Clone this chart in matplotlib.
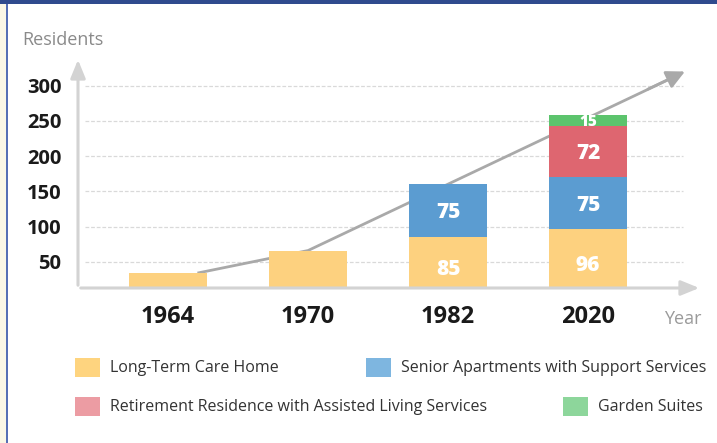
import numpy as np
import matplotlib
matplotlib.use("Agg")
import matplotlib.pyplot as plt
from matplotlib.patches import Rectangle

# data
years = ["1964", "1970", "1982", "2020"]
long_term = [34, 66, 85, 96]
senior_apts = [0, 0, 75, 75]
retirement = [0, 0, 0, 72]
garden = [0, 0, 0, 15]
yticks = [50, 100, 150, 200, 250, 300]

names = ["Long-Term Care Home", "Senior Apartments with Support Services",
         "Retirement Residence with Assisted Living Services", "Garden Suites"]
bar_colors = ["#FDD17F", "#5B9CD1", "#DE6670", "#5CC46D"]
key_colors = ["#FED47F", "#7EB6E0", "#EC9CA3", "#8DD69B"]

plt.rcParams["font.family"] = ["Open Sans", "DejaVu Sans"]

W, H = 717, 443
fig = plt.figure(figsize=(W / 100, H / 100), dpi=100)
fig.patch.set_facecolor("white")

# axes box in pixels: left 78, right 702, top 57, bottom 288
ax = fig.add_axes([78 / W, 1 - 288 / H, (702 - 78) / W, (288 - 57) / H])
ax.set_xlim(-0.643, 3.814)
ax.set_ylim(12.8, 340.9)
for s in ax.spines.values():
    s.set_visible(False)

x = np.arange(len(years))
series = [long_term, senior_apts, retirement, garden]
bottom = np.zeros(len(years))
for vals, c in zip(series, bar_colors):
    vals = np.array(vals)
    ax.bar(x, vals, 0.56, bottom=bottom, color=c, zorder=3, linewidth=0)
    bottom += vals

# value labels (only on the two stacked years)
for i in [2, 3]:
    b = 0
    for vals in series:
        v = vals[i]
        if v > 0:
            size = 15 if v > 30 else 11
            off = 3 if v > 30 else 1.5
            ax.text(x[i], b + v / 2 - off, str(v), ha="center", va="center",
                    color="white", fontsize=size, fontweight="heavy", zorder=5)
        b += v

# dashed grid
for t in yticks:
    ax.plot([-0.59, 3.68], [t, t], color="#d9d9d9", lw=0.9, ls=(0, (3, 1.5)), zorder=1)

# trend arrow through the first two bar tops
totals = bottom
tx = [0.21, 1.0, 3.71]
ty = [totals[0], totals[1], 322]
ax.plot(tx[:2] + [tx[2] - 0.08], ty[:2] + [ty[2] - 8], color="#a9a9a9", lw=2, zorder=2,
        solid_capstyle="butt")
ax.annotate("", xy=(tx[2], ty[2]), xytext=(tx[2] - 0.3, ty[2] - 28.5),
            arrowprops=dict(arrowstyle="-|>,head_length=1.1,head_width=0.55",
                            color="#a9a9a9", lw=2), zorder=2)

# axis arrows
ax.annotate("", xy=(1, 0), xytext=(0, 0), xycoords="axes fraction",
            arrowprops=dict(arrowstyle="-|>,head_length=1.1,head_width=0.45",
                            color="#d3d3d3", lw=2.2), zorder=4)
ax.annotate("", xy=(0, 1), xytext=(0, 0), xycoords="axes fraction",
            arrowprops=dict(arrowstyle="-|>,head_length=1.1,head_width=0.45",
                            color="#d3d3d3", lw=2.2), zorder=4)

ax.set_yticks(yticks)
ax.set_yticklabels([str(t) for t in yticks], fontsize=14.5, fontweight="bold", color="#1a1a1a")
ax.set_xticks(x)
ax.set_xticklabels(years, fontsize=17, fontweight="bold", color="#1a1a1a")
ax.tick_params(axis="y", length=0, pad=12)
ax.tick_params(axis="x", length=0, pad=12)

fig.text(22 / W, 1 - 40 / H, "Residents", fontsize=13, color="#8a8a8a", va="center")
fig.text(664 / W, 1 - 319 / H, "Year", fontsize=13, color="#9a9a9a", va="center")

# legend, drawn by hand (second column is ragged)
key_pos = [(75, 368), (366, 368), (75, 407), (563, 407)]
for (px, py), c, n in zip(key_pos, key_colors, names):
    fig.add_artist(Rectangle((px / W, 1 - (py + 9) / H), 25 / W, 19 / H,
                             transform=fig.transFigure, color=c, lw=0))
    fig.text((px + 35) / W, 1 - py / H, n, fontsize=11.5, color="#333333", va="center")

# frame of the screenshot
fig.add_artist(Rectangle((0, 1 - 4 / H), 1, 4 / H, transform=fig.transFigure,
                         color="#2F4B8E", lw=0))
fig.add_artist(Rectangle((0, 0), 6 / W, 1 - 4 / H, transform=fig.transFigure,
                         color="#FAF7E6", lw=0))
fig.add_artist(Rectangle((6 / W, 0), 2 / W, 1 - 4 / H, transform=fig.transFigure,
                         color="#5670B5", lw=0))

fig.savefig("out.png", dpi=100)
